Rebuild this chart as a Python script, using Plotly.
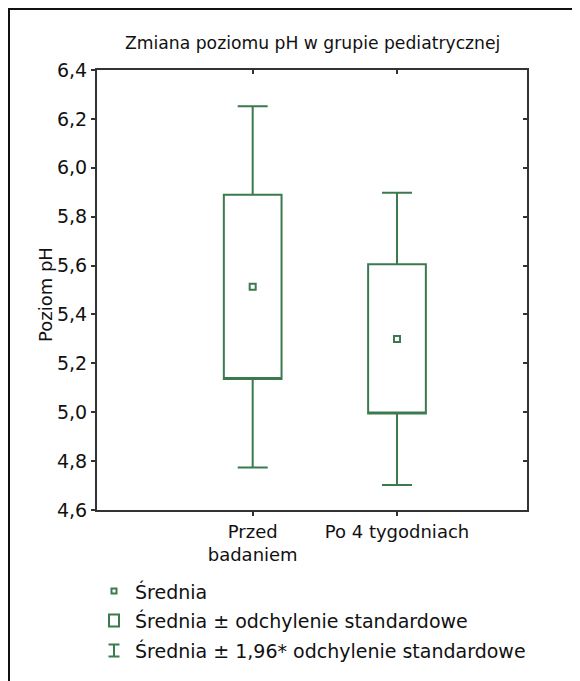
import plotly.graph_objects as go

# ---- data ----
categories = ["Przed<br>badaniem", "Po 4 tygodniach"]
positions = [1, 2]
means = [5.513, 5.300]
sds = [0.377, 0.305]
factor = 1.96
y_ticks = [4.6, 4.8, 5.0, 5.2, 5.4, 5.6, 5.8, 6.0, 6.2, 6.4]
x_range = [-0.079, 2.901]
y_range = [4.6, 6.4]

legend_labels = [
    "Średnia",
    "Średnia ± odchylenie standardowe",
    "Średnia ± 1,96* odchylenie standardowe",
]

title_text = "Zmiana poziomu pH w grupie pediatrycznej"
ytitle_text = "Poziom pH"

# ---- derived statistics ----
lo_sd = [m - s for m, s in zip(means, sds)]
hi_sd = [m + s for m, s in zip(means, sds)]
lo_w = [m - factor * s for m, s in zip(means, sds)]
hi_w = [m + factor * s for m, s in zip(means, sds)]

# ---- style / geometry ----
GREEN = "#3b7a4e"
AXIS = "#333333"
TXT = "#111111"
FONT = "DejaVu Sans"
OFF = 8                      # page body margin
W, H = 572, 673
L, T = 97 - OFF, 70 - OFF
R = W - (527 - OFF)
B = H - (510 - OFF)
PW, PH = W - L - R, H - T - B


def px(xs):
    """screen x (reference image) -> paper x"""
    return (xs - OFF - L) / PW


def py(ys):
    """screen y (reference image) -> paper y"""
    return (H - B - (ys - OFF)) / PH


fig = go.Figure()

fig.add_trace(go.Box(
    x=positions, q1=lo_sd, median=lo_sd, q3=hi_sd,
    lowerfence=lo_w, upperfence=hi_w,
    width=0.4, whiskerwidth=0.52,
    line=dict(color=GREEN, width=2),
    fillcolor="rgba(0,0,0,0)",
    boxpoints=False, showlegend=False, hoverinfo="skip",
))

fig.add_trace(go.Scatter(
    x=positions, y=means, mode="markers",
    marker=dict(symbol="square-open", size=6, color=GREEN,
                line=dict(width=2, color=GREEN)),
    showlegend=False, hoverinfo="skip",
))

# invisible trace to activate the mirrored (top/right) axes
fig.add_trace(go.Scatter(
    x=positions, y=means, mode="markers", xaxis="x2", yaxis="y2",
    marker=dict(opacity=0), showlegend=False, hoverinfo="skip",
))

axis_common = dict(showgrid=False, zeroline=False, showline=True,
                   linecolor=AXIS, linewidth=2, tickcolor=AXIS,
                   tickwidth=1.5, ticklen=4)

fig.update_layout(
    width=W, height=H, autosize=False,
    margin=dict(l=L, r=R, t=T, b=B, pad=0),
    paper_bgcolor="white", plot_bgcolor="white",
    separators=", ",
    font=dict(family=FONT, size=18, color=TXT),
    showlegend=False,
    xaxis=dict(range=x_range, tickmode="array", tickvals=positions,
               ticktext=categories, ticks="outside",
               tickfont=dict(size=18, color=TXT), **axis_common),
    yaxis=dict(range=y_range, tickmode="array", tickvals=y_ticks,
               tickformat=".1f", ticks="outside",
               tickfont=dict(size=19, color=TXT), **axis_common),
    xaxis2=dict(range=x_range, overlaying="x", side="top", anchor="y",
                tickmode="array", tickvals=positions, ticks="inside",
                showticklabels=False, **axis_common),
    yaxis2=dict(range=y_range, overlaying="y", side="right", anchor="x",
                tickmode="array", tickvals=y_ticks, ticks="inside",
                showticklabels=False, **axis_common),
)

annotations = [
    dict(text=title_text, x=px(312), y=py(43), xref="paper", yref="paper",
         xanchor="center", yanchor="middle", showarrow=False,
         font=dict(family=FONT, size=17.2, color=TXT)),
    dict(text=ytitle_text, x=px(45), y=py(295), xref="paper", yref="paper",
         xanchor="center", yanchor="middle", textangle=-90, showarrow=False,
         font=dict(family=FONT, size=18, color=TXT)),
]

legend_rows = [591, 620, 650]
for lab, ry in zip(legend_labels, legend_rows):
    annotations.append(dict(
        text=lab, x=px(133), y=py(ry), xref="paper", yref="paper",
        xanchor="left", yanchor="middle", showarrow=False,
        font=dict(family=FONT, size=19, color=TXT)))

fig.update_layout(annotations=annotations)

shape_line = dict(color=GREEN, width=2)
icx = 114
shapes = [
    # outer frame
    dict(type="rect", xref="paper", yref="paper",
         x0=px(9), x1=px(574), y0=py(720), y1=py(9),
         line=dict(color=TXT, width=2), fillcolor="rgba(0,0,0,0)"),
    # legend icon: mean
    dict(type="rect", xref="paper", yref="paper",
         x0=px(icx - 2.5), x1=px(icx + 2.5), y0=py(591 + 2.5), y1=py(591 - 2.5),
         line=shape_line),
    # legend icon: mean ± SD
    dict(type="rect", xref="paper", yref="paper",
         x0=px(icx - 5), x1=px(icx + 5), y0=py(620.5 + 6), y1=py(620.5 - 6),
         line=shape_line),
    # legend icon: mean ± 1.96 SD
    dict(type="line", xref="paper", yref="paper",
         x0=px(icx), x1=px(icx), y0=py(650.5 + 6), y1=py(650.5 - 6),
         line=shape_line),
    dict(type="line", xref="paper", yref="paper",
         x0=px(icx - 5.5), x1=px(icx + 5.5), y0=py(650.5 - 6), y1=py(650.5 - 6),
         line=shape_line),
    dict(type="line", xref="paper", yref="paper",
         x0=px(icx - 5.5), x1=px(icx + 5.5), y0=py(650.5 + 6), y1=py(650.5 + 6),
         line=shape_line),
]
fig.update_layout(shapes=shapes)

fig.write_html("out.html")
